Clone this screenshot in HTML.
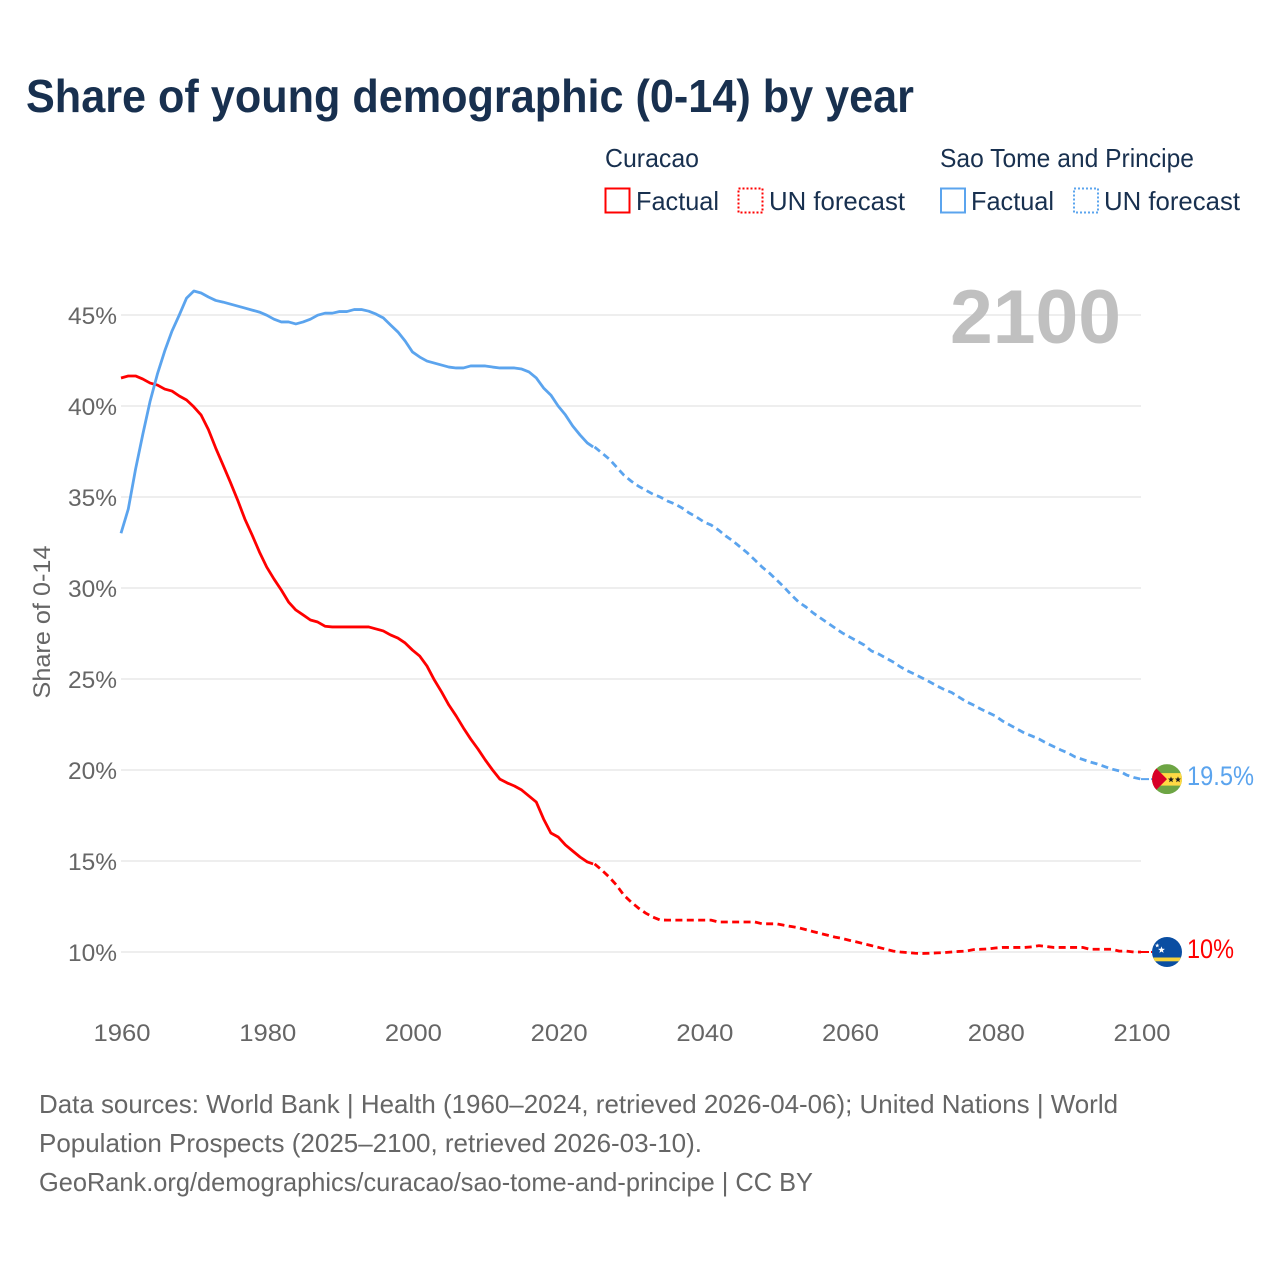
<!DOCTYPE html>
<html lang="en">
<head>
<meta charset="utf-8">
<title>Share of young demographic (0-14) by year</title>
<style>
html,body{margin:0;padding:0;background:#fff;}
svg{display:block;font-family:"Liberation Sans",sans-serif;}
</style>
</head>
<body>
<svg id="chart" xmlns="http://www.w3.org/2000/svg" width="1280" height="1280" viewBox="0 0 1280 1280">
<defs>
<clipPath id="c1"><circle cx="15" cy="15" r="15"/></clipPath>
</defs>
<text x="26" y="112" font-size="46" font-weight="700" fill="#18304f" textLength="888" lengthAdjust="spacingAndGlyphs">Share of young demographic (0-14) by year</text>

<g font-size="26" fill="#18304f">
<text x="605" y="167" textLength="94" lengthAdjust="spacingAndGlyphs">Curacao</text>
<text x="940" y="167" textLength="254" lengthAdjust="spacingAndGlyphs">Sao Tome and Principe</text>
<rect x="605.5" y="188.5" width="24" height="24" fill="none" stroke="#ff0000" stroke-width="2"/>
<text x="636" y="210" textLength="83" lengthAdjust="spacingAndGlyphs">Factual</text>
<rect x="738.5" y="188.5" width="24" height="24" fill="none" stroke="#ff0000" stroke-width="2" stroke-dasharray="2,2"/>
<text x="769" y="210" textLength="136" lengthAdjust="spacingAndGlyphs">UN forecast</text>
<rect x="941" y="188.5" width="24" height="24" fill="none" stroke="#5ba4ee" stroke-width="2"/>
<text x="971" y="210" textLength="83" lengthAdjust="spacingAndGlyphs">Factual</text>
<rect x="1074" y="188.5" width="24" height="24" fill="none" stroke="#5ba4ee" stroke-width="2" stroke-dasharray="2,2"/>
<text x="1104" y="210" textLength="136" lengthAdjust="spacingAndGlyphs">UN forecast</text>
</g>

<g id="grid"></g>
<g id="yticks"></g>
<g id="xticks"></g>
<text transform="translate(50,622) rotate(-90)" text-anchor="middle" font-size="24" fill="#666666" textLength="153" lengthAdjust="spacingAndGlyphs">Share of 0-14</text>
<text x="1121" y="343" text-anchor="end" font-size="76" font-weight="700" fill="#c0c0c0" textLength="171" lengthAdjust="spacingAndGlyphs">2100</text>
<g id="series"></g>
<g id="ends"></g>

<g font-size="26" fill="#666666">
<text x="39" y="1113" textLength="1079" lengthAdjust="spacingAndGlyphs">Data sources: World Bank | Health (1960–2024, retrieved 2026-04-06); United Nations | World</text>
<text x="39" y="1152" textLength="663" lengthAdjust="spacingAndGlyphs">Population Prospects (2025–2100, retrieved 2026-03-10).</text>
<text x="39" y="1191" textLength="774" lengthAdjust="spacingAndGlyphs">GeoRank.org/demographics/curacao/sao-tome-and-principe | CC BY</text>
</g>
</svg>

<script>
const startYear = 1960;
const forecastStartYear = 2025;
const yTickValues = [10, 15, 20, 25, 30, 35, 40, 45];
const xTickValues = [1960, 1980, 2000, 2020, 2040, 2060, 2080, 2100];

const curacaoValues = [
41.54,41.65,41.65,41.48,41.26,41.15,40.93,40.82,40.55,40.33,
39.95,39.5,38.7,37.69,36.76,35.82,34.84,33.79,32.91,31.98,
31.15,30.49,29.89,29.23,28.79,28.52,28.24,28.13,27.9,27.86,
27.86,27.86,27.86,27.86,27.86,27.75,27.64,27.42,27.25,26.98,
26.59,26.26,25.71,24.95,24.29,23.57,22.97,22.31,21.7,21.15,
20.55,20,19.5,19.29,19.12,18.9,18.57,18.24,17.31,16.54,
16.32,15.88,15.55,15.22,14.95,14.84,14.5,14.12,13.68,13.13,
12.75,12.42,12.14,11.92,11.76,11.75,11.75,11.75,11.75,11.75,
11.75,11.75,11.65,11.65,11.65,11.65,11.65,11.65,11.55,11.55,
11.55,11.47,11.4,11.33,11.23,11.12,11.02,10.92,10.82,10.74,
10.64,10.55,10.45,10.35,10.25,10.15,10.05,10,9.97,9.93,
9.92,9.93,9.95,9.97,10,10.03,10.05,10.13,10.15,10.17,
10.22,10.25,10.25,10.25,10.25,10.28,10.35,10.3,10.25,10.25,
10.25,10.25,10.25,10.15,10.15,10.15,10.15,10.05,10.05,10,10
];

const saoTomeValues = [
33.01,34.34,36.53,38.46,40.27,41.76,43.02,44.12,45,45.93,
46.32,46.21,45.99,45.8,45.71,45.6,45.49,45.38,45.27,45.16,
44.99,44.77,44.62,44.62,44.51,44.62,44.77,44.99,45.1,45.1,
45.19,45.19,45.3,45.3,45.21,45.05,44.84,44.45,44.07,43.57,
42.97,42.69,42.47,42.36,42.25,42.14,42.09,42.09,42.2,42.2,
42.2,42.14,42.09,42.09,42.09,42.03,41.87,41.54,40.99,40.6,
40,39.51,38.9,38.41,37.97,37.75,37.42,37.09,36.65,36.21,
35.88,35.6,35.38,35.16,35,34.78,34.62,34.4,34.12,33.9,
33.63,33.46,33.19,32.86,32.58,32.25,31.92,31.54,31.15,30.82,
30.44,30.05,29.62,29.23,28.96,28.63,28.35,28.08,27.8,27.53,
27.31,27.09,26.87,26.54,26.37,26.15,25.93,25.66,25.44,25.25,
25.05,24.84,24.62,24.42,24.26,24.01,23.76,23.57,23.35,23.16,
22.97,22.69,22.47,22.25,22.03,21.87,21.7,21.48,21.29,21.1,
20.93,20.71,20.58,20.44,20.33,20.19,20.05,19.95,19.73,19.59,19.5
];

const endLabels = ["10%", "19.5%"];

function xScale(year) { return 121 + (year - 1960) * (1020 / 140); }
function yScale(v) { return 952 - (v - 10) * 18.2; }

const NS = "http://www.w3.org/2000/svg";
function make(tag, attrs, parent) {
  const el = document.createElementNS(NS, tag);
  for (const k in attrs) el.setAttribute(k, attrs[k]);
  parent.appendChild(el);
  return el;
}

const gridG = document.getElementById("grid");
const yG = document.getElementById("yticks");
const xG = document.getElementById("xticks");
const seriesG = document.getElementById("series");
const endsG = document.getElementById("ends");

yTickValues.forEach(function (v) {
  const line = make("line", {x1: 121, x2: 1141, y1: yScale(v), y2: yScale(v), stroke: "#eeeeee", "stroke-width": 2}, gridG);
  
  
  const label = make("text", {x: 117, y: yScale(v) + 9, "text-anchor": "end", "font-size": 24, fill: "#666666", textLength: 49, lengthAdjust: "spacingAndGlyphs"}, yG);
  
  
  label.textContent = v + "%";
});

xTickValues.forEach(function (y) {
  const label = make("text", {x: xScale(y) + 1, y: 1041, "text-anchor": "middle", "font-size": 24, fill: "#666666", textLength: 57, lengthAdjust: "spacingAndGlyphs"}, xG);
  
  
  label.textContent = y;
});

function pathFor(values, from, to) {
  let d = "";
  values.forEach(function (v, i) {
    const yr = startYear + i;
    if (yr < from || yr > to) return;
    d += (d ? "L" : "M") + xScale(yr).toFixed(2) + " " + yScale(v).toFixed(2);
  });
  return d;
}

function drawSeries(values, color, slug) {
  const lastYear = startYear + values.length - 1;
  const solid = make("path", {d: pathFor(values, startYear, forecastStartYear - 1) + "L" + xScale(forecastStartYear - 0.2).toFixed(2) + " " + yScale(values[forecastStartYear - startYear]).toFixed(2), fill: "none", stroke: color, "stroke-width": 2.8, "stroke-linejoin": "round"}, seriesG);
  
  
  const dashed = make("path", {d: pathFor(values, forecastStartYear, lastYear), fill: "none", stroke: color, "stroke-width": 2.8, "stroke-dasharray": "7,4.4"}, seriesG);
  
  
  const ly = yScale(values[values.length - 1]);
  const conn = make("line", {x1: xScale(lastYear), x2: xScale(lastYear) + 11, y1: ly, y2: ly, stroke: color, "stroke-width": 2, "stroke-dasharray": "8,2"}, seriesG);
  
  
}

drawSeries(curacaoValues, "#ff0000", "curacao");
drawSeries(saoTomeValues, "#5ba4ee", "sao-tome");

function star(cx, cy, r, fill, parent) {
  let pts = [];
  for (let i = 0; i < 10; i++) {
    const a = -Math.PI / 2 + i * Math.PI / 5;
    const rr = i % 2 ? r * 0.42 : r;
    pts.push((cx + rr * Math.cos(a)).toFixed(2) + "," + (cy + rr * Math.sin(a)).toFixed(2));
  }
  return make("polygon", {points: pts.join(" "), fill: fill}, parent);
}

function flagGroup(lastValue, slug) {
  const cy = yScale(lastValue);
  const g = make("g", {transform: "translate(1152," + (cy - 15) + ")", "clip-path": "url(#c1)"}, endsG);
  
  
  return g;
}

const curacaoLast = curacaoValues[curacaoValues.length - 1];
const saoTomeLast = saoTomeValues[saoTomeValues.length - 1];

const fc = flagGroup(curacaoLast, "curacao");
make("rect", {x: 0, y: 0, width: 30, height: 30, fill: "#0a4ea2"}, fc);
make("rect", {x: 0, y: 20.5, width: 30, height: 3.8, fill: "#f5d33c"}, fc);
star(9.5, 13, 3.6, "#ffffff", fc);
star(5.2, 8.5, 2.3, "#ffffff", fc);

const fs = flagGroup(saoTomeLast, "sao-tome");
make("rect", {x: 0, y: 0, width: 30, height: 30, fill: "#6da544"}, fs);
make("rect", {x: 0, y: 9, width: 30, height: 12.5, fill: "#ffda44"}, fs);
make("polygon", {points: "0,0 0,30 15,15", fill: "#d80027"}, fs);
star(19, 15.5, 3.2, "#1a1a1a", fs);
star(26, 15.5, 3.2, "#1a1a1a", fs);

function endLabel(text, value, color, width, slug) {
  const t = make("text", {x: 1187, y: yScale(value) + 6, "font-size": 27, fill: color, textLength: width, lengthAdjust: "spacingAndGlyphs"}, endsG);
  
  
  t.textContent = text;
}
endLabel(endLabels[0], curacaoLast, "#ff0000", 47, "curacao");
endLabel(endLabels[1], saoTomeLast, "#5ba4ee", 67, "sao-tome");
</script>
</body>
</html>
